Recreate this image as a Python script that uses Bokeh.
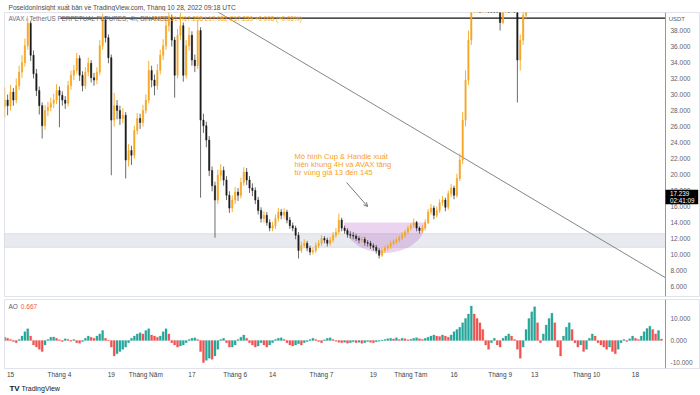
import numpy as np
from bokeh.plotting import figure
from bokeh.models import (ColumnDataSource, Range1d, FixedTicker, NumeralTickFormatter,
                          BoxAnnotation, Label, Arrow, OpenHead, LinearAxis)
from bokeh.layouts import column
from bokeh.embed import file_html
from bokeh.resources import INLINE

# ---------------- data (x = days, 0 = 15 March) ----------------
first_day = -2
first_open = 28.5
closes = [29.3, 28.6, 30.3, 29.3, 31.1, 32.8, 34.0, 36.1, 38.9, 34.9,
          32.6, 30.5, 28.6, 26.1, 28.0, 28.4, 28.9, 29.3, 30.5, 29.9,
          29.3, 28.9, 31.1, 32.4, 33.0, 34.5, 32.4, 31.1, 32.8, 33.9,
          32.1, 31.8, 32.8, 36.1, 39.3, 37.1, 34.6, 26.8, 28.6, 28.0,
          27.0, 27.4, 21.8, 23.0, 22.4, 25.5, 27.0, 26.5, 28.0, 29.3,
          33.0, 31.8, 31.1, 33.0, 34.9, 36.1, 38.6, 39.5, 36.8, 32.4,
          37.4, 38.6, 32.4, 36.1, 37.4, 34.3, 33.6, 38.0, 26.8, 26.1,
          24.3, 20.5, 18.6, 16.8, 19.9, 20.5, 19.3, 17.4, 15.8, 16.8,
          17.8, 17.4, 19.0, 20.3, 19.3, 18.3, 18.0, 16.8, 15.5, 14.5,
          14.9, 14.0, 13.3, 13.6, 14.5, 15.3, 14.9, 15.3, 14.3, 13.6,
          13.3, 12.4, 10.5, 11.1, 11.4, 10.8, 10.3, 10.5, 11.1, 11.4,
          12.0, 11.8, 11.4, 11.8, 12.4, 12.8, 14.3, 13.3, 13.0, 12.5,
          12.4, 12.3, 12.0, 11.8, 11.9, 11.5, 11.4, 11.1, 10.9, 10.5,
          9.9, 10.5, 10.8, 11.0, 11.4, 11.6, 11.8, 12.1, 12.4, 12.8,
          13.3, 13.6, 14.0, 13.3, 13.0, 13.3, 14.0, 15.3, 15.8, 14.9,
          15.5, 16.5, 16.8, 15.9, 17.6, 18.3, 17.4, 19.5, 21.8, 26.8,
          31.8, 36.8, 42.0, 44.0, 46.0, 45.0, 47.0, 48.0, 46.0, 44.0,
          42.0, 41.5, 39.0, 43.0, 45.0, 44.0, 46.0, 42.0, 34.3, 36.8,
          39.9, 44.0]
highs = [30.9, 30.0, 31.2, 30.8, 32.0, 33.6, 34.9, 37.0, 39.5, 39.2,
         35.5, 33.2, 31.0, 29.0, 28.7, 29.1, 29.6, 30.1, 31.3, 31.0,
         30.4, 29.8, 31.7, 33.0, 33.7, 35.2, 34.9, 32.9, 33.4, 34.6,
         34.3, 32.7, 33.4, 36.8, 40.1, 39.8, 37.5, 35.0, 30.2, 29.3,
         28.6, 28.3, 27.8, 23.8, 23.6, 26.1, 27.7, 27.6, 28.7, 30.0,
         34.2, 33.6, 32.5, 33.8, 35.6, 36.9, 39.5, 40.3, 40.0, 37.2,
         38.2, 40.2, 39.0, 36.8, 38.4, 37.9, 35.0, 39.2, 38.4, 27.6,
         26.6, 24.8, 21.0, 19.1, 20.6, 21.3, 21.0, 19.8, 17.9, 17.4,
         18.4, 18.3, 19.6, 20.9, 20.8, 19.8, 18.9, 18.4, 17.2, 15.9,
         15.4, 15.3, 14.4, 14.1, 15.0, 15.8, 15.7, 15.8, 15.6, 14.7,
         14.0, 13.6, 12.8, 11.6, 11.9, 11.7, 11.1, 10.9, 11.5, 11.8,
         12.4, 12.3, 12.1, 12.2, 12.8, 13.3, 15.1, 14.6, 13.6, 13.3,
         12.9, 12.8, 12.6, 12.3, 12.2, 12.2, 11.8, 11.7, 11.4, 11.2,
         10.8, 10.8, 11.1, 11.3, 11.7, 11.9, 12.1, 12.4, 12.8, 13.1,
         13.6, 13.9, 14.5, 14.2, 13.5, 13.7, 14.4, 15.7, 16.3, 16.1,
         16.0, 16.9, 17.3, 17.1, 18.0, 18.8, 18.6, 20.1, 22.6, 27.8,
         33.0, 38.0, 43.5, 45.0, 47.0, 47.0, 48.0, 49.0, 49.0, 47.0,
         45.0, 43.0, 42.0, 44.0, 46.0, 46.0, 47.0, 47.0, 42.5, 37.5,
         41.0, 45.0]
lows = [27.1, 27.4, 28.0, 28.6, 28.9, 30.6, 32.1, 33.5, 35.6, 34.2,
        32.0, 29.8, 27.5, 24.5, 25.6, 27.3, 27.9, 28.3, 28.8, 25.9,
        28.6, 28.2, 28.5, 30.6, 31.8, 32.6, 31.7, 30.4, 30.7, 32.3,
        31.5, 31.1, 31.3, 32.4, 35.6, 36.5, 33.9, 19.9, 26.0, 26.9,
        26.2, 26.4, 19.5, 21.0, 21.2, 22.0, 25.0, 25.7, 26.0, 27.6,
        28.9, 30.9, 29.9, 30.6, 32.5, 34.3, 35.6, 37.9, 36.0, 29.6,
        32.0, 36.8, 31.6, 32.0, 35.5, 33.6, 32.8, 33.2, 17.1, 25.2,
        23.4, 19.8, 17.9, 12.1, 16.3, 19.2, 18.6, 16.8, 15.2, 15.3,
        16.3, 16.7, 17.0, 18.6, 18.7, 17.7, 17.3, 16.3, 15.0, 14.0,
        14.0, 13.6, 12.9, 12.9, 13.2, 14.1, 14.4, 14.5, 13.9, 13.2,
        12.9, 11.9, 9.5, 10.2, 10.8, 10.4, 9.9, 10.0, 10.2, 10.8,
        11.1, 11.4, 11.0, 11.1, 11.5, 12.1, 12.5, 12.9, 12.6, 12.1,
        12.0, 11.9, 11.7, 11.4, 11.5, 11.1, 11.0, 10.7, 10.5, 10.1,
        9.5, 9.7, 10.2, 10.5, 10.7, 11.1, 11.3, 11.5, 11.8, 12.1,
        12.5, 13.0, 13.3, 12.9, 12.6, 12.7, 13.0, 13.8, 15.0, 14.4,
        14.6, 15.2, 16.1, 15.4, 15.6, 17.2, 16.9, 17.1, 19.2, 21.3,
        26.0, 31.2, 36.2, 41.0, 43.0, 44.0, 44.0, 46.0, 45.0, 43.0,
        41.0, 40.8, 38.0, 38.8, 42.0, 43.0, 43.0, 41.0, 29.0, 33.0,
        36.2, 39.5]

ao_first_day = -2
ao_values = [1.5, 1.0, 0.5, -0.5, -1.0, 0.5, 2.0, 4.0, 5.3, 2.0,
             -2.0, -3.0, -4.0, -5.0, -2.0, 0.5, 1.5, 1.6, 1.0, 0.3,
             -0.5, 0.8, 0.5, -0.3, 0.4, -1.0, -1.2, -0.5, 1.0, 2.0,
             1.5, 1.0, 2.0, 3.0, 4.5, 1.0, 0.2, -3.0, -7.0, -6.0,
             -5.0, -4.0, -3.0, -1.0, 1.0, 2.0, 3.0, 3.5, 3.0, 4.5,
             5.3, 2.5, 2.0, 1.5, 2.0, 4.0, 5.3, 3.0, -1.0, -2.0,
             -3.0, -2.5, -2.0, -1.0, 0.5, 1.0, 1.2, 0.5, -5.0, -10.0,
             -9.0, -8.0, -8.5, -7.0, -4.0, 0.5, 1.0, -1.0, -3.0, -3.0,
             -2.0, 0.5, 1.5, 2.5, 1.0, -1.0, -2.0, -3.0, -2.5, -1.0,
             -2.0, -3.0, -2.0, -1.0, 0.5, 1.0, 1.2, 0.5, -1.0, -2.0,
             -2.5, -2.0, -1.5, -2.0, -1.0, -0.5, 0.5, 1.0, 0.5, -0.5,
             -1.0, 0.3, 1.0, 1.2, 0.5, -0.3, -0.8, -1.0, -0.8, -1.2,
             -1.0, -0.6, -1.0, -0.8, -1.3, -1.0, -0.5, -0.8, -1.0, -0.6,
             -0.3, 0.2, 0.5, 0.8, 1.0, 0.7, 1.2, 0.5, 1.0, 0.8,
             0.3, 0.6, 1.0, 1.3, 0.8, 0.5, 1.0, 1.5, 2.0, 2.5,
             2.0, 1.8, 2.5, 2.0, 1.5, 2.5, 4.0, 5.0, 6.0, 8.0,
             10.0, 12.0, 15.6, 12.0, 10.0, 8.0, 5.0, -2.0, -4.0, -1.0,
             1.0, -2.0, -3.0, 1.0, 2.0, 3.0, 2.0, 0.5, -4.0, -8.0,
             -3.0, 5.0, 10.0, 13.0, 15.3, 8.0, -1.0, 3.0, 7.0, 10.0,
             12.4, 8.0, -3.0, -7.0, 2.0, 6.0, 8.0, 5.0, -1.0, -3.0,
             -2.0, -5.0, -4.0, 1.0, 3.0, 2.0, -1.0, -2.0, -3.0, -4.0,
             -3.0, -5.0, -6.0, -4.0, -1.0, 0.5, -0.5, 0.8, 2.0, 1.0,
             0.5, 2.0, 4.0, 5.5, 6.5, 5.0, 3.0, 4.5, 0.667]

tick_days = [0, 17, 35, 47, 63, 78, 91, 108, 126, 139, 154, 170, 182, 200, 217]
tick_labels = ["15", "Tháng 4", "19", "Tháng Năm", "17", "Tháng 6", "14", "Tháng 7",
               "19", "Tháng Tám", "16", "Tháng 9", "13", "Tháng 10", "18"]
price_ticks = [6, 8, 10, 12, 14, 16, 18, 20, 22, 24, 26, 28, 30, 32, 34, 36, 38]
ao_ticks = [-10, 0, 10]

last_price = 17.239
band_top, band_bottom = 12.6, 10.9
hline_price, hline_start = 39.55, 17.4
trend_x = [70.0, 227.4]
trend_y = [40.75, 7.1]
cup_center, cup_half_width, cup_top, cup_depth = 129.9, 14.2, 14.0, 3.8

# ---------------- geometry / styling ----------------
UP = "#f5a623"
DOWN = "#1c1c1c"
DOWN_WICK = "#5a5a5a"
FONT = "Liberation Sans"
AXIS_TXT = "#5d606b"
FRAME = "#e0e3eb"
W = 700
AXIS_DAY = 227.43          # where the price scale sits (x = 665 px)
X_START, X_END = -2.08, 239.58

closes_a = np.array(closes)
opens_a = np.concatenate([[first_open], closes_a[:-1]])
days = first_day + np.arange(len(closes_a))
is_up = closes_a >= opens_a
src = ColumnDataSource(dict(
    x=days, h=np.array(highs), l=np.array(lows),
    top=np.maximum(opens_a, closes_a), bot=np.minimum(opens_a, closes_a),
    color=np.where(is_up, UP, DOWN), wick=np.where(is_up, UP, DOWN_WICK)))

xr = Range1d(X_START, X_END)


def style_axis(ax, size="6.5px", color=AXIS_TXT):
    ax.major_label_text_font_size = size
    ax.major_label_text_font = FONT
    ax.major_label_text_color = color
    ax.major_tick_line_color = None
    ax.minor_tick_line_color = None
    ax.major_tick_out = 0
    ax.major_tick_in = 0
    ax.minor_tick_out = 0
    ax.minor_tick_in = 0


# ---------------- header strip ----------------
hdr = figure(width=W, height=11, x_range=Range1d(0, W), y_range=Range1d(0, 11),
             output_backend="svg", toolbar_location=None, x_axis_location=None,
             y_axis_location=None, min_border=0, outline_line_color=None)
hdr.grid.visible = False
hdr.add_layout(Label(x=4, y=5.5, text="PoseidonInsight xuất bản về TradingView.com, Tháng 10 28, 2022 09:18 UTC",
                     text_font=FONT, text_font_size="6.6px", text_color="#4a4a4a",
                     text_baseline="middle"))

# ---------------- main price panel ----------------
p = figure(width=W, height=286, x_range=xr, y_range=Range1d(4.75, 40.25),
           output_backend="svg", toolbar_location=None, x_axis_location=None,
           y_axis_location=None, min_border_left=4, min_border_right=0,
           min_border_top=1, min_border_bottom=1)
p.grid.visible = False
p.outline_line_color = FRAME
yax = LinearAxis(fixed_location=AXIS_DAY, ticker=FixedTicker(ticks=price_ticks),
                 formatter=NumeralTickFormatter(format="0.000"))
style_axis(yax)
yax.axis_line_color = "#9598a1"
yax.major_label_standoff = 5
p.add_layout(yax, "right")

p.add_layout(BoxAnnotation(top=band_top, bottom=band_bottom, right=AXIS_DAY,
                           fill_color="#e9eaef", fill_alpha=1, line_color="#a6a9b2",
                           line_width=1, level="underlay"))

t = np.linspace(np.pi, 2 * np.pi, 60)
p.patch(cup_center + cup_half_width * np.cos(t), cup_top + cup_depth * np.sin(t),
        fill_color="#9c27b0", fill_alpha=0.2, line_color=None)

p.line(trend_x, trend_y, line_color="#787878", line_width=0.9)
p.segment(x0=[hline_start], y0=[hline_price], x1=[AXIS_DAY], y1=[hline_price],
          line_color="#111111", line_width=1.3)

p.segment(x0="x", y0="l", x1="x", y1="h", source=src, line_color="wick", line_width=0.9)
p.vbar(x="x", top="top", bottom="bot", width=0.45, source=src, fill_color="color",
       line_color="color", line_width=0.5)

for i, txt in enumerate(["Mô hình Cup & Handle xuất", "hiện khung 4H và AVAX tăng",
                         "từ vùng giá 13 đến 145"]):
    p.add_layout(Label(x=98.6, y=22.2 - i * 1.0, text=txt, text_font=FONT,
                       text_font_size="7.6px", text_color="#f7a21b", text_baseline="middle"))
p.add_layout(Arrow(end=OpenHead(size=4, line_color="#555555", line_width=0.8),
                   x_start=116.7, y_start=19.0, x_end=124.0, y_end=16.0,
                   line_color="#555555", line_width=0.8))

p.add_layout(Label(x=-0.7, y=39.5, text="AVAX / TetherUS PERPETUAL FUTURES, 4h, BINANCE",
                   text_font=FONT, text_font_size="6.3px", text_color="#6a6d78",
                   text_baseline="middle"))
p.add_layout(Label(x=49.6, y=39.5, text="O17.231  H17.258  L17.082  C17.239  +0.008 (+0.05%)",
                   text_font=FONT, text_font_size="6.3px", text_color="#f5a623",
                   text_baseline="middle"))
p.add_layout(Label(x=AXIS_DAY + 1.1, y=39.45, text="USDT", text_font=FONT,
                   text_font_size="6px", text_color=AXIS_TXT, text_baseline="middle"))
# last-price badge on the price scale
p.add_layout(BoxAnnotation(left=AXIS_DAY, right=X_END - 0.8, top=last_price + 0.85,
                           bottom=last_price - 0.95, fill_color="#000000", fill_alpha=1,
                           line_color=None))
p.add_layout(Label(x=AXIS_DAY + 1.6, y=last_price + 0.42, text="17.239", text_font=FONT,
                   text_font_size="6.3px", text_color="white", text_baseline="middle"))
p.add_layout(Label(x=AXIS_DAY + 1.6, y=last_price - 0.5, text="02:41:09", text_font=FONT,
                   text_font_size="6.3px", text_color="white", text_baseline="middle"))

# ---------------- AO panel ----------------
ao = np.array(ao_values)
ao_days = ao_first_day + np.arange(len(ao))
prev = np.concatenate([[ao[0]], ao[:-1]])
ao_src = ColumnDataSource(dict(x=ao_days, v=ao,
                               color=np.where(ao >= prev, "#26a69a", "#ef5350")))

q = figure(width=W, height=84, x_range=xr, y_range=Range1d(-12.7, 18.6),
           output_backend="svg", toolbar_location=None, y_axis_location=None,
           min_border_left=4, min_border_right=0, min_border_top=2, min_border_bottom=13)
q.grid.visible = False
q.outline_line_color = FRAME
q.vbar(x="x", top="v", bottom=0, width=0.7, source=ao_src, fill_color="color",
       line_color="color", line_width=0.3)
aoax = LinearAxis(fixed_location=AXIS_DAY, ticker=FixedTicker(ticks=ao_ticks),
                  formatter=NumeralTickFormatter(format="0.000"))
style_axis(aoax)
aoax.axis_line_color = "#9598a1"
aoax.major_label_standoff = 5
q.add_layout(aoax, "right")

q.xaxis.ticker = FixedTicker(ticks=tick_days)
q.xaxis.major_label_overrides = {d: s for d, s in zip(tick_days, tick_labels)}
style_axis(q.xaxis[0], color="#3c3f48")
q.xaxis.axis_line_color = FRAME
q.xaxis.major_label_standoff = 2

q.add_layout(Label(x=-0.7, y=15.4, text="AO", text_font=FONT, text_font_size="6.5px",
                   text_color="#5d606b", text_baseline="middle"))
q.add_layout(Label(x=3.6, y=15.4, text="0.667", text_font=FONT, text_font_size="6.5px",
                   text_color="#ef5350", text_baseline="middle"))

# ---------------- footer strip ----------------
ftr = figure(width=W, height=14, x_range=Range1d(0, W), y_range=Range1d(0, 14),
             output_backend="svg", toolbar_location=None, x_axis_location=None,
             y_axis_location=None, min_border=0, outline_line_color=None)
ftr.grid.visible = False
ftr.add_layout(Label(x=5, y=7, text="TV", text_font=FONT, text_font_size="8px",
                     text_font_style="bold", text_color="#131722", text_baseline="middle"))
ftr.add_layout(Label(x=17, y=7, text="TradingView", text_font=FONT, text_font_size="7px",
                     text_color="#131722", text_baseline="middle"))

layout = column(hdr, p, q, ftr, spacing=0)

open("out.html", "w").write(file_html(layout, INLINE))
